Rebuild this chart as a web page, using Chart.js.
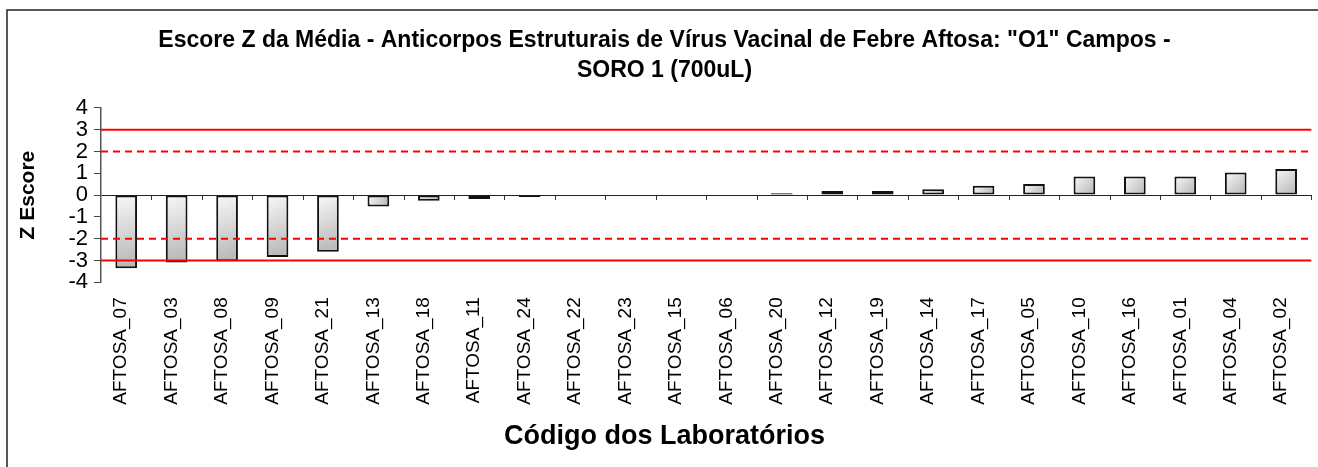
<!DOCTYPE html>
<html lang="pt-BR">
<head>
<meta charset="utf-8">
<title>Escore Z da Média</title>
<script src="https://cdn.jsdelivr.net/npm/chart.js"></script>
<style>
  html, body { margin: 0; padding: 0; background: #fff; overflow: hidden; }
  canvas { display: block; }
</style>
</head>
<body>
<canvas id="escoreZ" width="1324" height="467"></canvas>
<script>
// dados
const laboratorios = ['AFTOSA_07', 'AFTOSA_03', 'AFTOSA_08', 'AFTOSA_09', 'AFTOSA_21', 'AFTOSA_13',
    'AFTOSA_18', 'AFTOSA_11', 'AFTOSA_24', 'AFTOSA_22', 'AFTOSA_23', 'AFTOSA_15', 'AFTOSA_06',
    'AFTOSA_20', 'AFTOSA_12', 'AFTOSA_19', 'AFTOSA_14', 'AFTOSA_17', 'AFTOSA_05', 'AFTOSA_10',
    'AFTOSA_16', 'AFTOSA_01', 'AFTOSA_04', 'AFTOSA_02'];
const escoreZ = [-3.35, -3.09, -3.03, -2.84, -2.60, -0.52, -0.26, -0.18, -0.09, 0, 0, 0, 0,
    0.09, 0.19, 0.19, 0.27, 0.43, 0.51, 0.85, 0.85, 0.85, 1.04, 1.20];
const limitesAcao = [3, -3];    // linhas cheias
const limitesAlerta = [2, -2];  // linhas tracejadas
const eixoYMin = -4;
const eixoYMax = 4;

const tituloGrafico = ['Escore Z da Média - Anticorpos Estruturais de Vírus Vacinal de Febre Aftosa: "O1" Campos -', 'SORO 1 (700uL)'];
const tituloEixoX = 'Código dos Laboratórios';
const tituloEixoY = 'Z Escore';

const fonte = "'Liberation Sans', Arial, Helvetica, sans-serif";
const larguraBarra = 0.43;

// preenchimento em degradê de cada barra
function gradienteBarra(context) {
    const chart = context.chart;
    const x = chart.scales.x, y = chart.scales.y;
    if (!x || !y || context.raw === undefined) return '#d8d8d8';
    const centro = x.getPixelForValue(context.dataIndex);
    const meia = (x.getPixelForValue(1) - x.getPixelForValue(0)) * larguraBarra / 2;
    const y0 = y.getPixelForValue(0);
    const y1 = y.getPixelForValue(context.raw);
    if (![centro, meia, y0, y1].every(Number.isFinite)) return '#d8d8d8';
    const topo = Math.min(y0, y1), base = Math.max(y0, y1);
    const g = chart.ctx.createLinearGradient(centro - meia, topo, centro + meia, base);
    g.addColorStop(0, '#f8f8f8');
    g.addColorStop(1, '#b4b4b4');
    return g;
}

// moldura externa (só aparecem esquerda e topo)
const moldura = {
    id: 'moldura',
    beforeDraw(chart) {
        const c = chart.ctx;
        c.save();
        c.strokeStyle = '#222';
        c.lineWidth = 1.5;
        c.strokeRect(7, 10, chart.width + 20, chart.height + 20);
        c.restore();
    }
};

// marcas das categorias sobre a linha do zero
const marcasZero = {
    id: 'marcasZero',
    beforeDatasetsDraw(chart) {
        const {ctx, scales: {x, y}} = chart;
        const y0 = y.getPixelForValue(0);
        ctx.save();
        ctx.strokeStyle = '#333';
        ctx.lineWidth = 1;
        for (let i = 1; i <= laboratorios.length; i++) {
            const px = Math.round(x.getPixelForValue(i - 0.5)) + 0.5;
            ctx.beginPath();
            ctx.moveTo(px, y0);
            ctx.lineTo(px, y0 + 5);
            ctx.stroke();
        }
        ctx.restore();
    }
};

// linhas vermelhas de limite
const linhasLimite = {
    id: 'linhasLimite',
    afterDatasetsDraw(chart) {
        const {ctx, chartArea, scales: {y}} = chart;
        ctx.save();
        ctx.strokeStyle = '#ff0000';
        ctx.lineWidth = 2;
        const traca = (v, dash) => {
            const py = y.getPixelForValue(v);
            ctx.setLineDash(dash);
            ctx.beginPath();
            ctx.moveTo(chartArea.left, py);
            ctx.lineTo(chartArea.right, py);
            ctx.stroke();
        };
        limitesAcao.forEach(v => traca(v, []));
        limitesAlerta.forEach(v => traca(v, [7, 5]));
        ctx.restore();
    }
};

const ctx = document.getElementById('escoreZ').getContext('2d');
new Chart(ctx, {
    type: 'bar',
    data: {
        labels: laboratorios,
        datasets: [{
            label: 'Escore Z',
            data: escoreZ,
            backgroundColor: gradienteBarra,
            borderColor: '#111',
            borderWidth: 2,
            borderSkipped: false,
            barPercentage: larguraBarra,
            categoryPercentage: 1
        }]
    },
    options: {
        responsive: false,
        animation: false,
        layout: { padding: { left: 8, top: 10, right: 3, bottom: 0 } },
        plugins: {
            legend: { display: false },
            tooltip: { enabled: false },
            title: {
                display: true,
                text: tituloGrafico,
                color: '#000',
                font: { family: fonte, size: 23, weight: 'bold', lineHeight: 1.28 },
                padding: { top: 16, bottom: 23 }
            },
            subtitle: {
                display: true,
                position: 'bottom',
                text: tituloEixoX,
                color: '#000',
                font: { family: fonte, size: 27, weight: 'bold', lineHeight: 1.1 },
                padding: { top: 0, bottom: 16 }
            }
        },
        scales: {
            x: {
                grid: { display: false, drawTicks: false },
                border: { display: false },
                ticks: {
                    autoSkip: false,
                    maxRotation: 90,
                    minRotation: 90,
                    padding: 15,
                    labelOffset: -5,
                    color: '#000',
                    font: { family: fonte, size: 19 }
                },
                afterFit(scale) { scale.height = 139; }
            },
            y: {
                min: eixoYMin,
                max: eixoYMax,
                ticks: {
                    stepSize: 1,
                    autoSkip: false,
                    padding: 6,
                    color: '#000',
                    font: { family: fonte, size: 22, lineHeight: 1 }
                },
                grid: {
                    color: (c) => (c.tick && c.tick.value === 0 ? '#222' : 'rgba(0,0,0,0)'),
                    tickColor: '#444',
                    tickLength: 7,
                    lineWidth: 1
                },
                border: { display: true, color: '#555', width: 1.5 },
                title: {
                    display: true,
                    text: tituloEixoY,
                    color: '#000',
                    font: { family: fonte, size: 21, weight: 'bold', lineHeight: 1.2 },
                    padding: { top: 8, bottom: 0 }
                },
                afterFit(scale) { scale.width = 93; }
            }
        }
    },
    plugins: [moldura, marcasZero, linhasLimite]
});
</script>
</body>
</html>
